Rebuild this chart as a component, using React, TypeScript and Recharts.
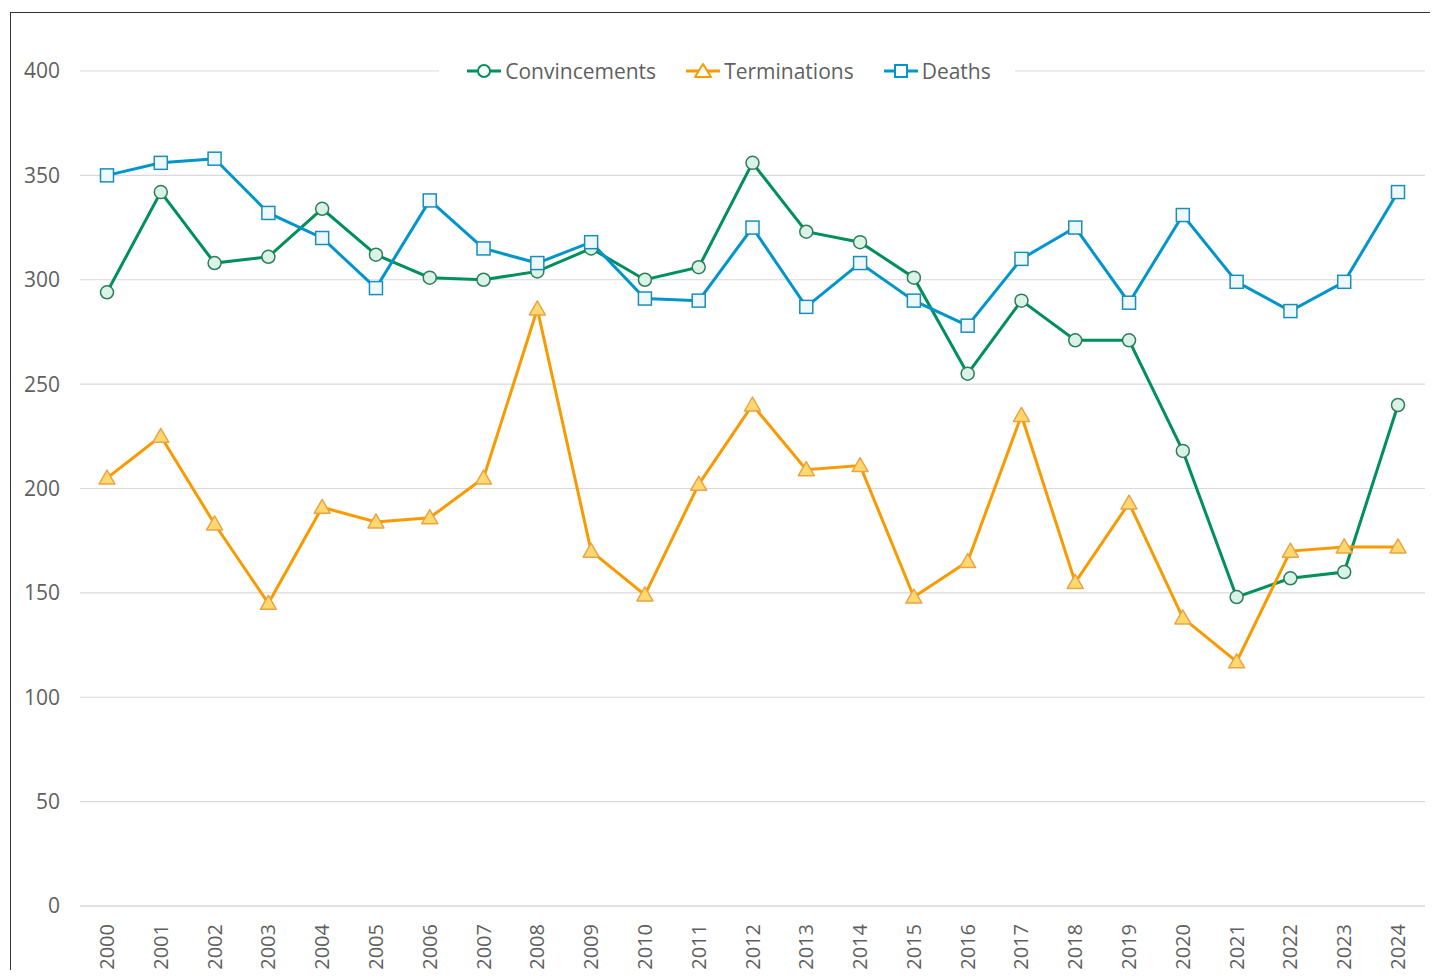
import React from "react";
import { LineChart, Line, XAxis, YAxis, CartesianGrid } from "recharts";

const years = ["2000","2001","2002","2003","2004","2005","2006","2007","2008","2009","2010","2011","2012","2013","2014","2015","2016","2017","2018","2019","2020","2021","2022","2023","2024"];
const convincements = [294,342,308,311,334,312,301,300,304,315,300,306,356,323,318,301,255,290,271,271,218,148,157,160,240];
const terminations = [205,225,183,145,191,184,186,205,286,170,149,202,240,209,211,148,165,235,155,193,138,117,170,172,172];
const deaths = [350,356,358,332,320,296,338,315,308,318,291,290,325,287,308,290,278,310,325,289,331,299,285,299,342];
const yTicks = [0,50,100,150,200,250,300,350,400];

const GREEN = "#00905c";
const ORANGE = "#f99b00";
const BLUE = "#0096cc";
const FONT = "'Open Sans', sans-serif";
const TEXT = "#5f5f5f";

const data = years.map((y, i) => ({
  year: y,
  Convincements: convincements[i],
  Terminations: terminations[i],
  Deaths: deaths[i],
}));

const CircleDot = (p: any) => {
  if (p.cx == null || p.cy == null) return null;
  return <circle key={p.key ?? `c${p.index}`} cx={p.cx} cy={p.cy} r={6.5} fill="#d9f3e6" stroke="#2f7d5d" strokeWidth={1.5} />;
};
const TriDot = (p: any) => {
  if (p.cx == null || p.cy == null) return null;
  const s = 8;
  const pts = `${p.cx},${p.cy - s} ${p.cx - s},${p.cy + s * 0.75} ${p.cx + s},${p.cy + s * 0.75}`;
  return <polygon key={p.key ?? `t${p.index}`} points={pts} fill="#ffd870" stroke="#e9a445" strokeWidth={1.5} strokeLinejoin="round" />;
};
const SquareDot = (p: any) => {
  if (p.cx == null || p.cy == null) return null;
  return <rect key={p.key ?? `s${p.index}`} x={p.cx - 6.5} y={p.cy - 6.5} width={13} height={13} fill="#eef9fd" stroke="#1a8dbd" strokeWidth={1.5} />;
};

const XTick = (p: any) => {
  const { x, y, payload } = p;
  const ty = y + 10;
  return (
    <text x={x} y={ty} transform={`rotate(-90, ${x}, ${ty})`} textAnchor="end" dy="0.35em" fill={TEXT} fontSize={20} fontFamily={FONT}>
      {payload.value}
    </text>
  );
};

const LegendIcon = ({ color, kind }: { color: string; kind: string }) => (
  <svg width={34} height={20} style={{ display: "block" }}>
    <line x1={0} y1={10} x2={34} y2={10} stroke={color} strokeWidth={3} />
    {kind === "circle" && <circle cx={17} cy={10} r={6} fill="#fff" stroke={color} strokeWidth={2} />}
    {kind === "tri" && <polygon points="17,3 9,16 25,16" fill="#fff" stroke={color} strokeWidth={2} strokeLinejoin="round" />}
    {kind === "square" && <rect x={11} y={4} width={12} height={12} fill="#fff" stroke={color} strokeWidth={2} />}
  </svg>
);

const legendItems = [
  { name: "Convincements", color: GREEN, kind: "circle" },
  { name: "Terminations", color: ORANGE, kind: "tri" },
  { name: "Deaths", color: BLUE, kind: "square" },
];

export default function App() {
  return (
    <div style={{ position: "relative", width: 1422, height: 962 }}>
      <div style={{ position: "absolute", left: 2, top: 4, width: 1440, height: 980, borderLeft: "1.5px solid #333", borderTop: "1.5px solid #333", boxSizing: "border-box" }} />
      <div style={{ position: "absolute", left: -8, top: -8 }}>
        <LineChart width={1438} height={978} data={data} margin={{ top: 71, right: 13, bottom: 0, left: 0 }}>
          <CartesianGrid vertical={false} stroke="#d9d9d9" strokeWidth={1.2} />
          <XAxis dataKey="year" height={72} axisLine={{ stroke: "#d9d9d9" }} tickLine={false} interval={0} tick={<XTick />} padding={{ left: 27, right: 27 }} />
          <YAxis width={80} domain={[0, 400]} ticks={yTicks} axisLine={false} tickLine={false} tickSize={0} tickMargin={20}
            tick={{ fill: TEXT, fontSize: 21, fontFamily: FONT }} />
          <Line dataKey="Convincements" stroke={GREEN} strokeWidth={3} dot={CircleDot} isAnimationActive={false} />
          <Line dataKey="Terminations" stroke={ORANGE} strokeWidth={3} dot={TriDot} isAnimationActive={false} />
          <Line dataKey="Deaths" stroke={BLUE} strokeWidth={3} dot={SquareDot} isAnimationActive={false} />
        </LineChart>
        <div style={{ position: "absolute", left: 0, top: 57, width: 1438, display: "flex", justifyContent: "center" }}>
          <div style={{ display: "flex", alignItems: "center", background: "#fff", padding: "0 24px 0 28px", transform: "translateX(8px)" }}>
            {legendItems.map((it, i) => (
              <div key={it.name} style={{ display: "flex", alignItems: "center", marginLeft: i === 0 ? 0 : 30 }}>
                <LegendIcon color={it.color} kind={it.kind} />
                <span style={{ marginLeft: 4, fontFamily: FONT, fontSize: 21, color: TEXT, lineHeight: "28px" }}>{it.name}</span>
              </div>
            ))}
          </div>
        </div>
      </div>
    </div>
  );
}
